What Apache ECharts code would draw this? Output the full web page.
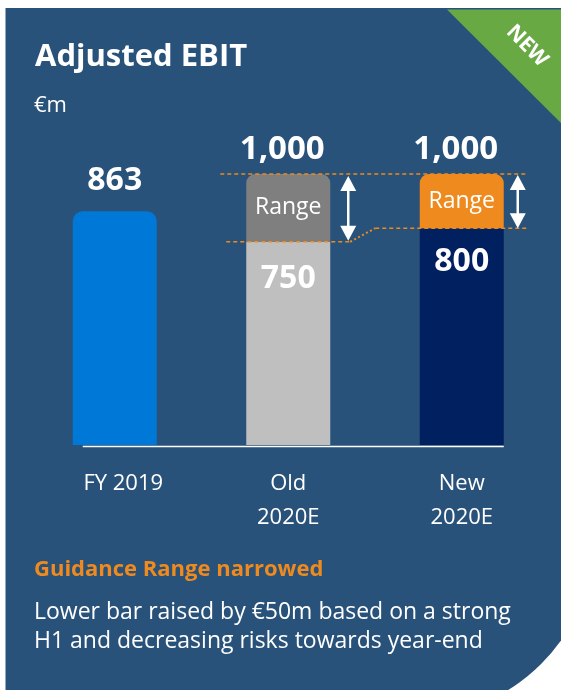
<!DOCTYPE html>
<html>
<head>
<meta charset="utf-8">
<script src="https://cdn.jsdelivr.net/npm/echarts@6/dist/echarts.min.js"></script>
<style>
html,body{margin:0;padding:0;background:#ffffff;}
#chart{width:561px;height:690px;}
</style>
</head>
<body>
<div id="chart"></div>
<script>
// ---- data ----
const categories = ['FY 2019', 'Old\n2020E', 'New\n2020E'];
const lowOrActual = [863, 750, 800];
const rangeHigh = [null, 1000, 1000];
const rangeText = 'Range';
const titleText = 'Adjusted EBIT';
const unitText = '€m';
const badgeText = 'NEW';
const noteTitle = 'Guidance Range narrowed';
const noteLines = ['Lower bar raised by €50m based on a strong', 'H1 and decreasing risks towards year-end'];

// ---- styles ----
const FONT = '"Open Sans", "Noto Sans", sans-serif';
const PANEL = '#29527A';
const ORANGE = '#EE8A1E';
const baseColors = ['#0078D7', '#BFBFBF', '#002060'];
const rangeColors = [null, '#7F7F7F', '#EE8A1E'];
const fmt = v => v.toLocaleString('en-US');

const chart = echarts.init(document.getElementById('chart'), null, {renderer: 'canvas'});

const baseData = lowOrActual.map((v, i) => ({
  value: v,
  itemStyle: {color: baseColors[i], borderRadius: i === 0 ? [10, 10, 0, 0] : 0},
  label: i === 0
    ? {show: true, position: 'top', distance: 14}
    : {show: true, position: 'insideTop', distance: i === 1 ? 21 : 18}
}));

const rangeData = rangeHigh.map((h, i) => h == null ? '-' : ({
  value: h - lowOrActual[i],
  itemStyle: {color: rangeColors[i], borderRadius: [9, 9, 0, 0]}
}));

const topLabelData = rangeHigh.map((h, i) => h == null ? null : [i, h]).filter(d => d);

const axisData = categories.map((c, i) => i === 0
  ? {value: c, textStyle: {padding: [0, 0, 0, 17]}}
  : c);

function arrow(x, y1, y2) {
  const hw = 8, hh = 15;
  return [
    {type: 'line', shape: {x1: x, y1: y1 + hh - 1, x2: x, y2: y2 - hh + 1}, style: {stroke: '#fff', lineWidth: 2.5}},
    {type: 'polygon', shape: {points: [[x, y1], [x - hw, y1 + hh], [x + hw, y1 + hh]]}, style: {fill: '#fff'}},
    {type: 'polygon', shape: {points: [[x, y2], [x - hw, y2 - hh], [x + hw, y2 - hh]]}, style: {fill: '#fff'}}
  ];
}

const option = {
  animation: false,
  backgroundColor: '#ffffff',
  graphic: [
    {type: 'rect', z: -10, shape: {x: 5.5, y: 8, width: 590, height: 710, r: [0, 0, 185, 0]}, style: {fill: PANEL}},
    {type: 'polygon', z: -9, shape: {points: [[447, 9.5], [561, 9.5], [561, 123]]}, style: {fill: '#69A944'}},
    {type: 'text', z: -8, x: 527, y: 46, rotation: -Math.PI / 4,
      style: {text: badgeText, fill: '#fff', font: 'bold 21px ' + FONT, align: 'center', verticalAlign: 'middle'}},
    {type: 'text', x: 35, y: 57, style: {text: titleText, fill: '#fff', font: 'bold 31px ' + FONT, verticalAlign: 'middle'}},
    {type: 'text', x: 34, y: 106, style: {text: unitText, fill: '#fff', font: '22px ' + FONT, verticalAlign: 'middle'}},
    {type: 'text', x: 34, y: 570, style: {text: noteTitle, fill: ORANGE, font: 'bold 22px ' + FONT, verticalAlign: 'middle'}},
    {type: 'text', x: 34, y: 612, style: {text: noteLines[0], fill: '#fff', font: '23px ' + FONT, verticalAlign: 'middle'}},
    {type: 'text', x: 34, y: 641, style: {text: noteLines[1], fill: '#fff', font: '23px ' + FONT, verticalAlign: 'middle'}}
  ],
  grid: {left: 28, right: 12.5, top: 174, bottom: 245, containLabel: false},
  xAxis: {
    type: 'category',
    data: axisData,
    axisLine: {show: false},
    axisTick: {show: false},
    axisLabel: {color: '#fff', fontFamily: FONT, fontSize: 22, lineHeight: 34, margin: 22}
  },
  yAxis: {type: 'value', min: 0, max: 1000, show: false, splitLine: {show: false}},
  series: [
    {
      type: 'custom', z: 1, silent: true, data: [[0, 0]],
      renderItem: function (params, api) {
        const a = api.coord([0, 0]);
        const b = api.coord([2, 0]);
        return {type: 'line', shape: {x1: a[0] - 32, y1: a[1] + 1.5, x2: b[0] + 42, y2: b[1] + 1.5},
          style: {stroke: '#fff', lineWidth: 1.5}};
      }
    },
    {
      type: 'bar', stack: 'ebit', z: 2, barWidth: 84, data: baseData,
      label: {color: '#fff', fontFamily: FONT, fontWeight: 'bold', fontSize: 32, formatter: p => fmt(p.value)}
    },
    {
      type: 'bar', stack: 'ebit', z: 2, barWidth: 84, data: rangeData,
      label: {show: true, position: 'inside', color: '#fff', fontFamily: FONT, fontSize: 23, formatter: rangeText}
    },
    {
      type: 'scatter', z: 3, symbolSize: 0, data: topLabelData,
      itemStyle: {color: 'transparent', opacity: 1},
      label: {show: true, position: 'top', distance: 8, offset: [-6, 0], color: '#ffffff', opacity: 1, fontFamily: FONT,
        fontWeight: 'bold', fontSize: 33, formatter: p => fmt(p.value[1])}
    },
    {
      type: 'custom', z: 4, silent: true, data: [[1, 1000]],
      renderItem: function (params, api) {
        const oTop = api.coord([1, rangeHigh[1]]);
        const oLow = api.coord([1, lowOrActual[1]]);
        const nTop = api.coord([2, rangeHigh[2]]);
        const nLow = api.coord([2, lowOrActual[2]]);
        const dash = {stroke: ORANGE, lineWidth: 1.5, lineDash: [4, 3]};
        const dot = {stroke: ORANGE, lineWidth: 2, lineDash: [2, 2.5]};
        const children = [
          {type: 'line', shape: {x1: oTop[0] - 68, y1: oTop[1], x2: nTop[0] + 65, y2: nTop[1]}, style: dash},
          {type: 'line', shape: {x1: oLow[0] - 62, y1: oLow[1], x2: oLow[0] + 62, y2: oLow[1]}, style: dash},
          {type: 'line', shape: {x1: oLow[0] + 62, y1: oLow[1], x2: oLow[0] + 87, y2: nLow[1]}, style: dot},
          {type: 'line', shape: {x1: oLow[0] + 87, y1: nLow[1], x2: nLow[0] + 65, y2: nLow[1]}, style: dash}
        ].concat(arrow(oTop[0] + 60, oTop[1] + 2, oLow[1] - 1), arrow(nTop[0] + 56, nTop[1] + 1, nLow[1]));
        return {type: 'group', children: children};
      }
    }
  ]
};
chart.setOption(option);
</script>
</body>
</html>
